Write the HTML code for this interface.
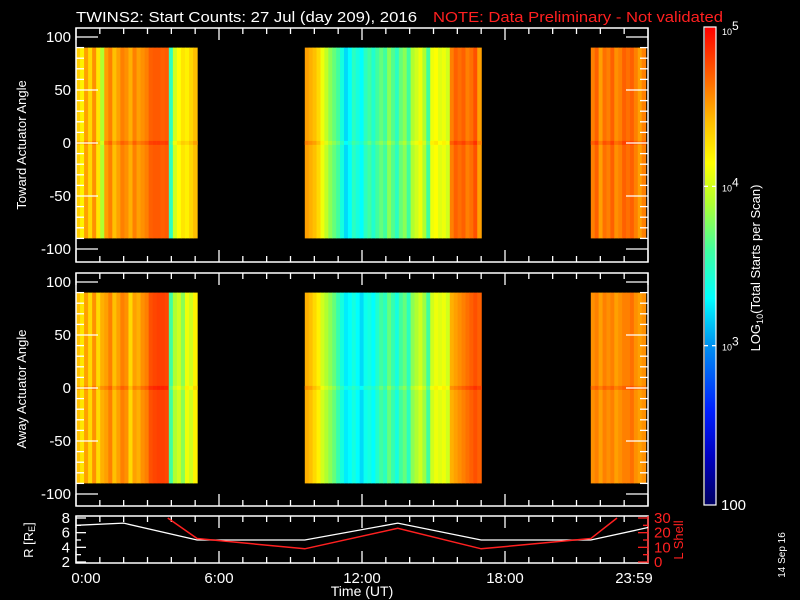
<!DOCTYPE html>
<html><head><meta charset="utf-8"><style>
html,body{margin:0;padding:0;background:#000;}
svg{display:block;font-family:"Liberation Sans",sans-serif;}
</style></head><body>
<svg id="chart" width="800" height="600" viewBox="0 0 800 600">
<rect width="800" height="600" fill="#000"/>
<text x="76" y="22" fill="#fff" font-size="15" textLength="341" lengthAdjust="spacingAndGlyphs">TWINS2: Start Counts: 27 Jul (day 209), 2016</text>
<text x="433" y="22" fill="#ff2020" font-size="15" textLength="290" lengthAdjust="spacingAndGlyphs">NOTE: Data Preliminary - Not validated</text>
<g id="heat"></g>
<g id="axes"></g>
<g id="cbar"></g>
<text transform="translate(26,145) rotate(-90)" text-anchor="middle" fill="#fff" font-size="13">Toward Actuator Angle</text>
<text transform="translate(26,389) rotate(-90)" text-anchor="middle" fill="#fff" font-size="13">Away Actuator Angle</text>
<text transform="translate(33,540) rotate(-90)" text-anchor="middle" fill="#fff" font-size="13">R [R<tspan font-size="9" dy="2">E</tspan><tspan dy="-2">]</tspan></text>
<text transform="translate(683,540) rotate(-90)" text-anchor="middle" fill="#ff2020" font-size="13">L Shell</text>
<text x="362" y="596" text-anchor="middle" fill="#fff" font-size="14">Time (UT)</text>
<text transform="translate(785,555) rotate(-90)" text-anchor="middle" fill="#fff" font-size="10">14 Sep 16</text>
<text transform="translate(760,268) rotate(-90)" text-anchor="middle" fill="#fff" font-size="13">LOG<tspan font-size="9" dy="3">10</tspan><tspan dy="-3">(Total Starts per Scan)</tspan></text>
</svg>
<script>
// ---- data ----
const blockStartsH = [0, 9.6, 21.6];
const blockEndsH = [5.08, 17.0, 23.9];
const topBlock1 = [4.35,4.2,4.5,4.3,4.55,4.25,3.9,4.5,4.6,4.4,4.5,4.6,4.55,4.45,4.6,4.5,4.55,4.6,4.7,4.72,4.72,4.7,4.72,3.5,4.0,4.15,4.25,4.2,4.3,4.4];
const topBlock2 = [4.5,4.45,4.4,4.3,4.1,3.95,3.8,3.7,3.6,3.4,3.2,3.3,3.5,3.4,3.3,3.5,3.6,3.45,3.6,3.7,3.6,3.8,3.65,3.5,3.7,3.8,3.6,3.9,4.0,4.1,3.9,3.6,4.1,4.15,4.05,4.1,4.0,4.6,4.7,4.65,4.7,4.6,4.65,4.75,4.5];
const topBlock3 = [4.6,4.7,4.5,4.65,4.6,4.7,4.55,4.6,4.7,4.65,4.7,4.6,4.5,4.6];
const botBlock1 = [4.4,4.25,4.5,4.3,4.55,4.3,4.45,4.5,4.6,4.4,4.5,4.6,4.55,4.3,4.5,4.45,4.55,4.6,4.75,4.78,4.8,4.8,4.78,3.6,3.9,4.0,3.8,4.1,4.0,4.2];
const botBlock2 = [4.45,4.4,4.3,4.2,4.0,3.9,3.8,3.7,3.55,3.4,3.25,3.3,3.4,3.3,3.2,3.35,3.4,3.3,3.45,3.6,3.5,3.7,3.55,3.4,3.6,3.7,3.5,3.8,3.9,4.0,3.85,3.6,4.0,4.1,4.05,4.1,4.0,4.45,4.5,4.55,4.6,4.65,4.7,4.75,4.7];
const botBlock3 = [4.55,4.6,4.5,4.6,4.55,4.6,4.5,4.55,4.6,4.6,4.65,4.55,4.5,4.55];
const rHours = [0,2,5.08,9.6,13.5,17.0,21.6,24];
const rValues = [7.0,7.3,5.0,5.0,7.3,5.0,5.0,6.7];
const lHours = [3.85,5.08,9.6,13.5,17.0,21.6,22.7];
const lValues = [30,16,9,23,9,16,30];
const xTickLabels = ["0:00","6:00","12:00","18:00","23:59"];
const xTickHours = [0,6,12,18,24];
const angleTicks = [-100,-50,0,50,100];
const rTicks = [2,4,6,8];
const lTicks = [0,10,20,30];
const cbarTickLogs = [5,4,3,2];
const cbarTickLabels = ["10^5","10^4","10^3","100"];

// ---- scales ----
const X0=76, X1=648;
const xH = h => X0 + h/24*(X1-X0);
const panels = [{top:28,bot:262,zero:143,cols:[topBlock1,topBlock2,topBlock3],name:'toward'},
                {top:273,bot:506,zero:388,cols:[botBlock1,botBlock2,botBlock3],name:'away'}];
const yA = (p,v) => p.zero - v*1.06;
const LY0=516, LY1=563;
const yR = v => 562 - (v-2)/6*44;
const yL = v => 562 - v/30*44;
const CB0=27, CB1=505;
const yC = lg => CB1 - (lg-2)/3*(CB1-CB0);

const stops=[[2.0,[0,0,96]],[2.3,[0,0,192]],[2.6,[0,32,255]],[3.0,[0,144,240]],[3.3,[0,255,255]],[3.6,[64,255,160]],[3.9,[176,255,48]],[4.15,[255,255,0]],[4.4,[255,192,0]],[4.6,[255,128,0]],[4.8,[255,64,0]],[5.0,[255,0,0]]];
function cmap(v){
  v=Math.max(2,Math.min(5,v));
  for(let i=1;i<stops.length;i++){ if(v<=stops[i][0]){ const a=stops[i-1],b=stops[i],t=(v-a[0])/(b[0]-a[0]);
    const c=a[1].map((x,k)=>Math.round(x+(b[1][k]-x)*t)); return `rgb(${c[0]},${c[1]},${c[2]})`; } }
  return 'rgb(255,0,0)';
}
const NS='http://www.w3.org/2000/svg';
function mk(tag,attrs,parent){const e=document.createElementNS(NS,tag);for(const k in attrs)e.setAttribute(k,attrs[k]);parent.appendChild(e);return e;}
const heat=document.getElementById('heat'), axes=document.getElementById('axes'), cbar=document.getElementById('cbar');

panels.forEach(p=>{
  p.cols.forEach((arr,bi)=>{
    const xa=xH(blockStartsH[bi]), xb=xH(blockEndsH[bi]), w=(xb-xa)/arr.length;
    arr.forEach((v,i)=>{
      const r=mk('rect',{x:xa+i*w,y:yA(p,90),width:w+0.6,height:yA(p,-90)-yA(p,90),fill:cmap(v)},heat);
      
      
      const s=mk('rect',{x:xa+i*w,y:yA(p,2),width:w+0.6,height:4,fill:cmap(v+0.1)},heat);
      
      
    });
  });
});

function line(x1,y1,x2,y2,col,parent){return mk('line',{x1,y1,x2,y2,stroke:col,'stroke-width':1.3},parent||axes);}
function txt(x,y,s,anchor,col,size,parent){const t=mk('text',{x,y,'text-anchor':anchor,fill:col,'font-size':size||13},parent||axes);t.textContent=s;return t;}

panels.forEach(p=>{
  const f=mk('rect',{x:X0,y:p.top,width:X1-X0,height:p.bot-p.top,fill:'none',stroke:'#fff','stroke-width':1.5},axes);
  
  
  for(let v=-100;v<=100;v+=10){const big=v%50===0, L=big?22:8;
    line(X0,yA(p,v),X0+L,yA(p,v),'#fff'); line(X1,yA(p,v),X1-L,yA(p,v),'#fff');}
  angleTicks.forEach(v=>{const t=txt(X0-5,yA(p,v)+5,String(v),'end','#fff',15);
    
    });
  for(let h=0;h<=24;h++){const L=h%6===0?12:6;
    line(xH(h),p.top,xH(h),p.top+L,'#fff'); line(xH(h),p.bot,xH(h),p.bot-L,'#fff');}
});

const lf=mk('rect',{x:X0,y:LY0,width:X1-X0,height:LY1-LY0,fill:'none',stroke:'#fff','stroke-width':1.5},axes);


for(let h=0;h<=24;h++){const L=h%6===0?12:6;
  line(xH(h),LY0,xH(h),LY0+L,'#fff'); line(xH(h),LY1,xH(h),LY1-L,'#fff');}
for(let v=2;v<=8;v++){line(X0,yR(v),X0+(v%2===0?10:5),yR(v),'#fff');}
rTicks.forEach(v=>{const t=txt(X0-6,yR(v)+5,String(v),'end','#fff',15);
  
  });
line(X1,LY0,X1,LY1,'#ff2020');
for(let v=0;v<=30;v+=5){line(X1,yL(v),X1-(v%10===0?10:5),yL(v),'#ff2020');}
lTicks.forEach(v=>{const t=txt(X1+6,yL(v)+5,String(v),'start','#ff2020',15);
  
  });
const rPath=rHours.map((h,i)=>(i?'L':'M')+xH(h)+','+yR(rValues[i])).join(' ');
const rl=mk('path',{d:rPath,fill:'none',stroke:'#fff','stroke-width':1.3},axes);


const clip=mk('clipPath',{id:'lclip'},axes); mk('rect',{x:X0,y:LY0,width:X1-X0,height:LY1-LY0},clip);
const lPath=lHours.map((h,i)=>(i?'L':'M')+xH(h)+','+yL(lValues[i])).join(' ');
const ll=mk('path',{d:lPath,fill:'none',stroke:'#ff2020','stroke-width':1.5,'clip-path':'url(#lclip)'},axes);



xTickHours.forEach((h,i)=>{const t=txt(xH(h)+(i===0?10:(i===4?-14:0)),583,xTickLabels[i],'middle','#fff',15);
  
  });

for(let y=CB0;y<CB1;y+=1){const lg=2+(CB1-y)/(CB1-CB0)*3;
  mk('rect',{x:705,y:y,width:11,height:1.2,fill:cmap(lg)},cbar);}
const cf=mk('rect',{x:704,y:CB0,width:12,height:CB1-CB0,fill:'none',stroke:'#fff','stroke-width':1.2},cbar);


cbarTickLogs.forEach((lg,i)=>{
  const y=yC(lg); if(lg!==2 && lg!==5){line(704,y,708,y,'#fff',cbar);line(716,y,712,y,'#fff',cbar);}
  const lab=cbarTickLabels[i]; let t;
  if(lab.indexOf('^')>0){t=mk('text',{x:722,y:y+(lg===5?8:5),fill:'#fff','font-size':9},cbar);
    t.textContent='10'; const s=mk('tspan',{dy:-5,'font-size':12},t); s.textContent=lab.split('^')[1];}
  else {t=txt(721,y+5,lab,'start','#fff',15,cbar);}
  
  
});
</script>
</body></html>
